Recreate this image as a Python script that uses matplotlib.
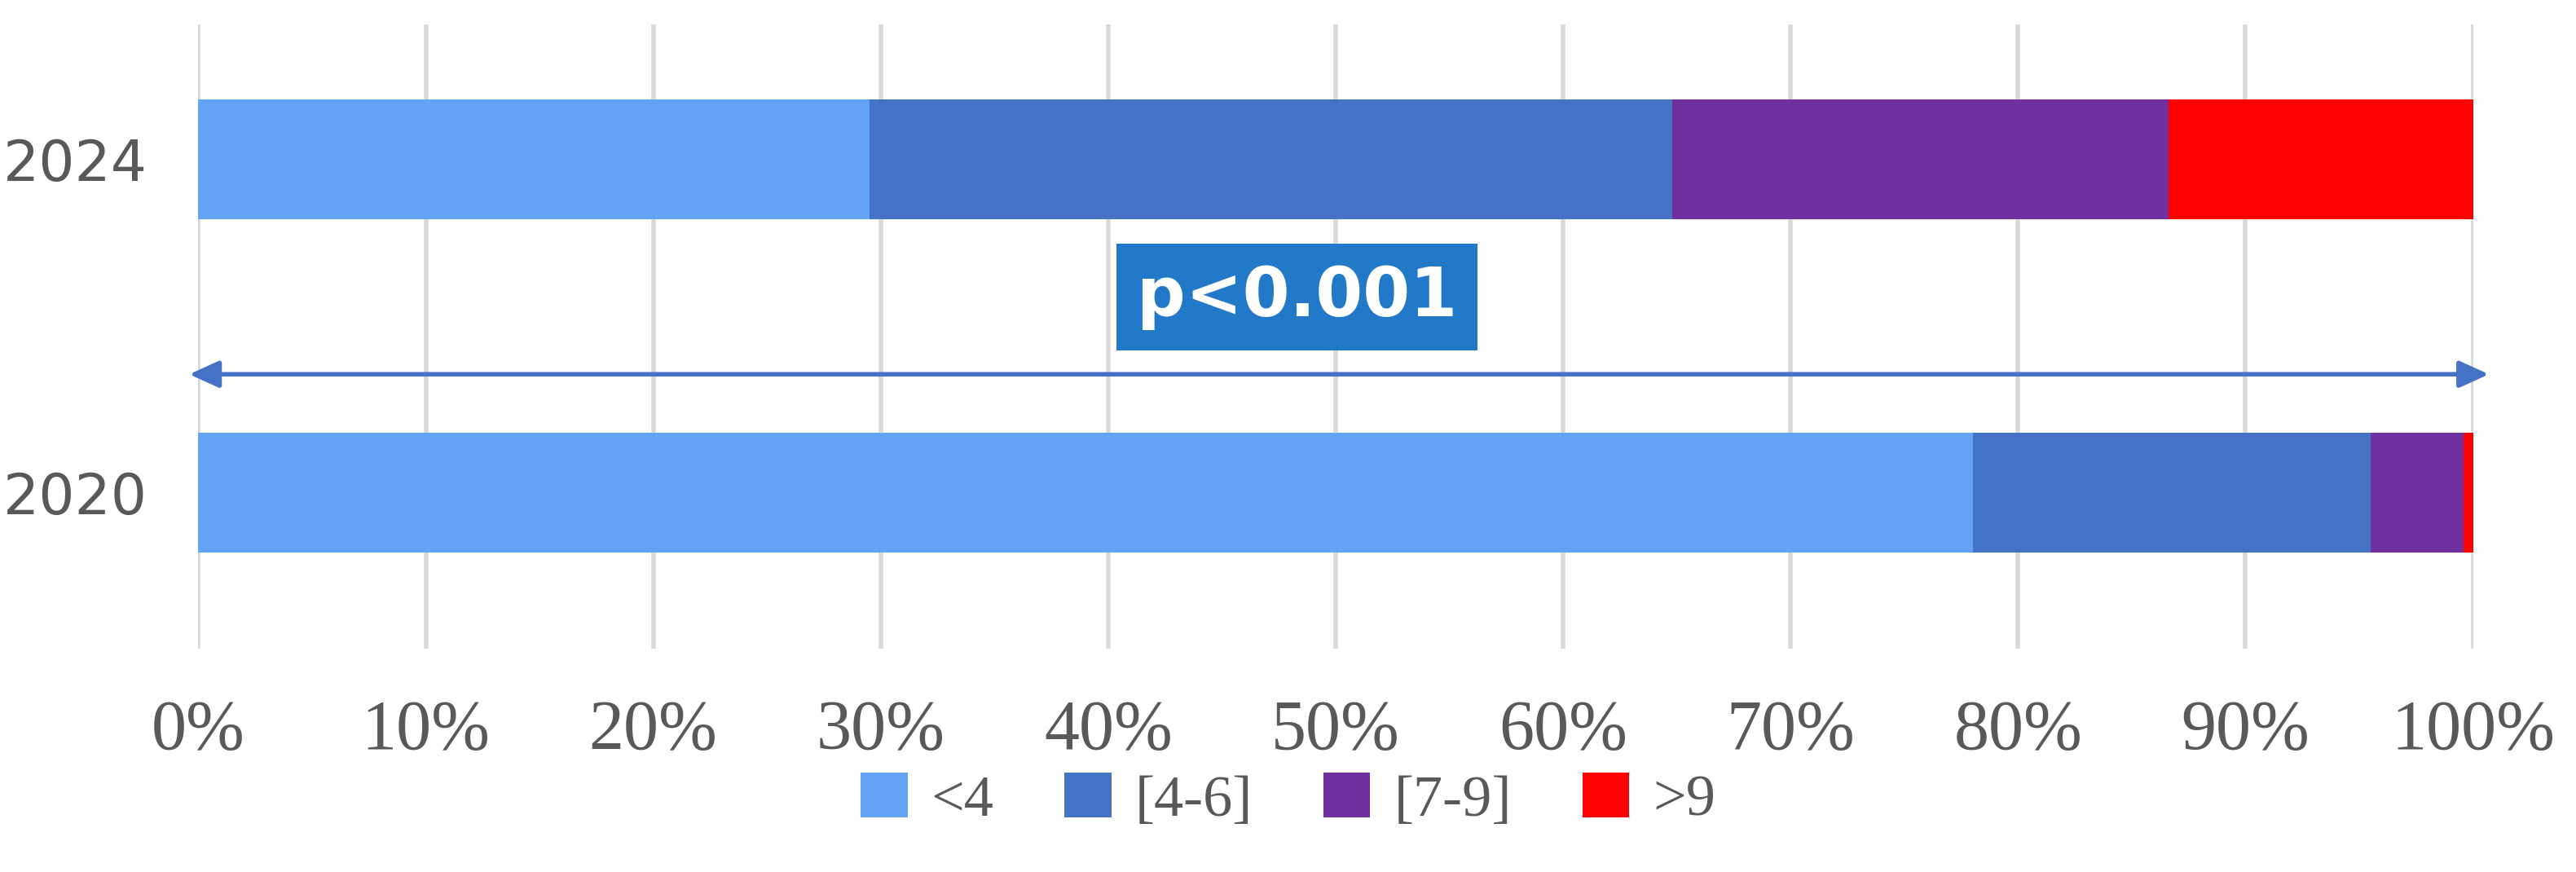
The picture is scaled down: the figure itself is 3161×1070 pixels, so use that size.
import matplotlib.pyplot as plt

years = ["2020", "2024"]
categories = ["<4", "[4-6]", "[7-9]", ">9"]
values = {
    "2020": [78.0, 17.5, 4.1, 0.4],
    "2024": [29.5, 35.3, 21.8, 13.4],
}
colors = ["#62A3F5", "#4472C4", "#7030A0", "#FF0000"]
p_label = "p<0.001"

fig = plt.figure(figsize=(31.61, 10.7), dpi=100)
ax = fig.add_axes([0.077, 0.256, 0.883, 0.716])

for i, yr in enumerate(years):
    left = 0
    for j, v in enumerate(values[yr]):
        ax.barh(i, v, left=left, height=0.36, color=colors[j],
                label=categories[j] if i == 0 else None, zorder=3)
        left += v

ax.set_xlim(0, 100)
ax.set_ylim(-0.468, 1.404)
ax.set_xticks(range(0, 101, 10))
ax.set_xticklabels([f"{t}%" for t in range(0, 101, 10)],
                   fontfamily="Liberation Serif", fontsize=62, color="#595959")
ax.set_yticks([0, 1])
ax.set_yticklabels(years, fontsize=50, color="#595959")
ax.tick_params(length=0, pad=45)
ax.tick_params(axis="y", pad=45)
ax.grid(axis="x", color="#D9D9D9", lw=4, zorder=0)
for s in ax.spines.values():
    s.set_visible(False)

# p-value arrow and box
ax.annotate("", xy=(-0.5, 0.355), xytext=(100.8, 0.355), annotation_clip=False,
            arrowprops=dict(arrowstyle="<|-|>,head_length=2.2,head_width=1.0",
                            color="#4472C4", lw=4), zorder=4)
ax.text(48.3, 0.586, p_label, ha="center", va="center", fontsize=60,
        fontweight="bold", color="white", zorder=5,
        bbox=dict(boxstyle="square,pad=0.3", fc="#2179C8", ec="none"))

fig.legend(loc="lower center", ncol=4, frameon=False, bbox_to_anchor=(0.5, -0.01),
           prop={"family": "Liberation Serif", "size": 52},
           handlelength=0.8, handleheight=0.8, columnspacing=1.2,
           handletextpad=0.4, labelcolor="#595959")
fig.savefig("out.png", dpi=100)
